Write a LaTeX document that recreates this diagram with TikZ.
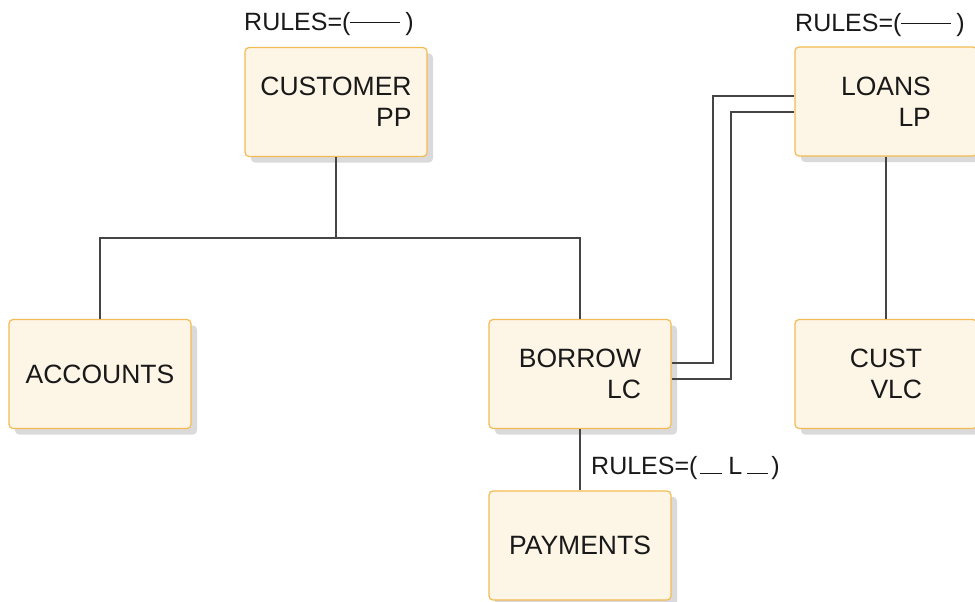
\documentclass[tikz,border=0pt]{standalone}
\usepackage{fontspec}
\setmainfont{Liberation Sans}
\usetikzlibrary{shadows}
\definecolor{boxfill}{HTML}{FDF5E6}
\definecolor{boxedge}{HTML}{F3BB55}
\definecolor{linec}{HTML}{454545}
\definecolor{shadowc}{HTML}{DADADA}
\tikzset{
  seg/.style={draw=boxedge, line width=1.2pt, fill=boxfill, rounded corners=4pt,
    minimum width=182pt, minimum height=109pt, align=right, inner sep=0pt,
    font=\fontsize{26.5}{31}\selectfont, text=black!90,
    general shadow={fill=shadowc, shadow xshift=6pt, shadow yshift=-6pt}},
  conn/.style={draw=linec, line width=1.4pt},
  rlabel/.style={anchor=base west, inner sep=0pt, font=\fontsize{25}{29}\selectfont, text=black!90}
}
\newcommand{\dashrule}[1]{\rule[0.3em]{#1}{1.1pt}}
\newcommand{\lowrule}[1]{\rule[0pt]{#1}{1.1pt}}
\begin{document}
\begin{tikzpicture}[x=1pt,y=-1pt]
\useasboundingbox (0,0) rectangle (975,602);
\node[seg] (cust) at (336,102) {CUSTOMER\\PP};
\node[seg] (loans) at (886,101.5) {LOANS\\LP};
\node[seg] (acc) at (100,374) {ACCOUNTS};
\node[seg] (bor) at (580,374) {BORROW\\LC};
\node[seg] (cust2) at (886,374) {CUST\\VLC};
\node[seg] (pay) at (580,545.5) {PAYMENTS};

\node[rlabel] (l1) at (244,31) {RULES=(\dashrule{50pt}\hspace{5pt})};
\node[rlabel] (l2) at (795,32) {RULES=(\dashrule{50pt}\hspace{5pt})};
\node[rlabel] (l3) at (591,474) {RULES=(\hspace{3pt}\lowrule{22pt}\hspace{6pt}L\hspace{5pt}\lowrule{21pt}\hspace{3pt})};

\coordinate (j) at (336,238);
\coordinate (r1) at (713,96);
\coordinate (r2) at (731,112);
\draw[conn] (cust.south) -- (j);
\draw[conn] (acc.north) |- (j) -| (bor.north);
\draw[conn] (loans.south) -- (cust2.north);
\draw[conn] (bor.south) -- (pay.north);
\draw[conn] ([yshift=11pt]bor.east) -| (r1) -- (r1 -| loans.west);
\draw[conn] ([yshift=-5pt]bor.east) -| (r2) -- (r2 -| loans.west);
\end{tikzpicture}
\end{document}
